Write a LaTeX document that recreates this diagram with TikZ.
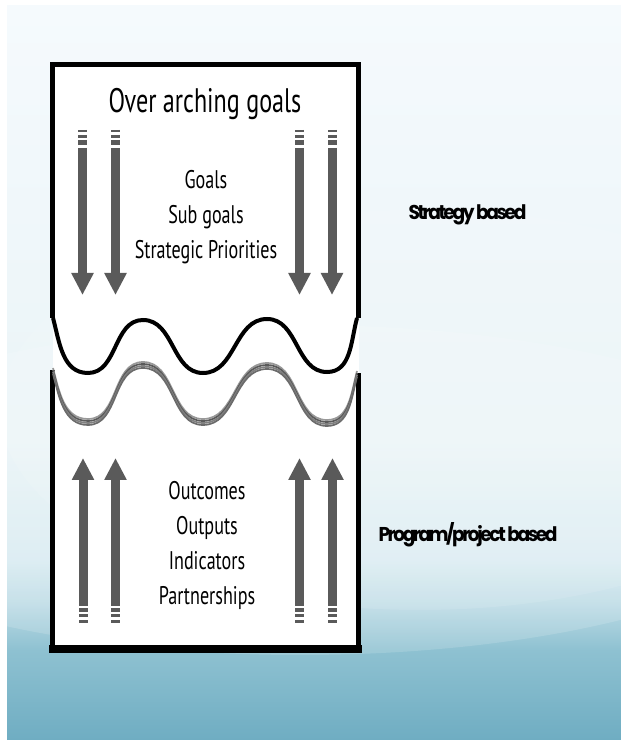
\documentclass[tikz,border=0pt]{standalone}
\usepackage{fontspec}
\setmainfont{PT Sans}
\newfontfamily\slidefont[FakeStretch=0.71]{PT Sans}
\newfontfamily\labelfont[LetterSpace=-12, FakeStretch=0.93]{Poppins}
\usetikzlibrary{arrows.meta, positioning}

\definecolor{bgtop}{HTML}{F5FAFD}
\definecolor{bgmid}{HTML}{EAF4F7}
\definecolor{bglow}{HTML}{D8EBF1}
\definecolor{bgtwo}{HTML}{BEDCE6}
\definecolor{bgone}{HTML}{8EC1D1}
\definecolor{bgbot}{HTML}{6FADC2}
\definecolor{arrgray}{HTML}{5A5A5A}
\pgfdeclareverticalshading{slidebg}{100bp}{color(0bp)=(bgbot); color(25bp)=(bgbot);
  color(31.1bp)=(bgone); color(34.5bp)=(bgtwo); color(37.3bp)=(bglow);
  color(45.4bp)=(bgmid); color(75bp)=(bgtop); color(100bp)=(bgtop)}

\begin{document}
\begin{tikzpicture}[x=1pt, y=1pt,
    frame/.style={line width=5pt, line join=miter},
    arr/.style={arrgray, line width=9pt, -{Triangle[width=21pt, length=22pt]}},
    down/.style={arr, dash pattern=on 2pt off 3pt on 3pt off 2pt on 5pt off 3pt on 400pt},
    up/.style={arr, dash pattern=on 3pt off 3pt on 3pt off 2pt on 4pt off 2pt on 400pt},
    item/.style={font=\slidefont\fontsize{25.5}{35}\selectfont, align=center},
    side/.style={font=\labelfont\bfseries\fontsize{20}{24}\selectfont, anchor=west}]

  \useasboundingbox (0,0) rectangle (621,740);
  \fill[white] (0,0) rectangle (621,740);
  \shade[shading=slidebg] (7,0) rectangle (621,734);
  \begin{scope}
    \clip (7,0) rectangle (621,734);
    \fill[white, opacity=0.15] (300,250) ellipse [x radius=520, y radius=165];
    \fill[white, opacity=0.10] (420,330) ellipse [x radius=420, y radius=200];
  \end{scope}

  % box
  \fill[white] (52.5,91) rectangle (358.5,675.5);
  \draw[frame] (52.5,422) -- (52.5,675.5) -- (358.5,675.5) -- (358.5,422);
  \draw[frame] (52.5,370) -- (52.5,91) -- (358.5,91) -- (358.5,367);
  \draw[line width=8pt] (49,91) -- (362,91);

  % waves
  \draw[line width=4pt] (53,422) to[out=-75, in=180] (88,367) to[out=0, in=180] (143,420)
    to[out=0, in=180] (203,367) to[out=0, in=180] (267,421) to[out=0, in=180] (327,368)
    to[out=0, in=-105] (357,422);
  \foreach \d/\c in {0/gray!80, 2/arrgray, 4/gray, 6/arrgray!90}
    \draw[\c, line width=1.7pt, yshift=-\d] (53,372) to[out=-75, in=180] (88,321)
      to[out=0, in=180] (143,378) to[out=0, in=180] (203,321) to[out=0, in=180] (267,377)
      to[out=0, in=180] (327,320) to[out=0, in=-105] (357,369);

  % arrows
  \coordinate (d1s) at (82.5,610); \coordinate (d1e) at (82.5,445);
  \coordinate (d2s) at (115.5,610); \coordinate (d2e) at (115.5,445);
  \coordinate (d3s) at (299.5,610); \coordinate (d3e) at (299.5,445);
  \coordinate (d4s) at (332,610); \coordinate (d4e) at (332,445);
  \coordinate (u1s) at (83,117); \coordinate (u1e) at (83,282);
  \coordinate (u2s) at (115.5,117); \coordinate (u2e) at (115.5,282);
  \coordinate (u3s) at (299.5,117); \coordinate (u3e) at (299.5,282);
  \coordinate (u4s) at (332.5,117); \coordinate (u4e) at (332.5,282);
  \draw[down] (d1s) -- (d1e);
  \draw[down] (d2s) -- (d2e);
  \draw[down] (d3s) -- (d3e);
  \draw[down] (d4s) -- (d4e);
  \draw[up] (u1s) -- (u1e);
  \draw[up] (u2s) -- (u2e);
  \draw[up] (u3s) -- (u3e);
  \draw[up] (u4s) -- (u4e);

  % texts
  \node[font=\slidefont\fontsize{34}{40}\selectfont] (over) at (205,636) {Over arching goals};
  \node[item] (goals) at (206,523) {Goals\\Sub goals\\Strategic Priorities};
  \node[item] (outs) at (207,194.5) {Outcomes\\Outputs\\Indicators\\Partnerships};
  \node[side] (strat) at (405,525) {Strategy based};
  \node[side] (prog) at (375,205) {Program/project based};
\end{tikzpicture}
\end{document}
